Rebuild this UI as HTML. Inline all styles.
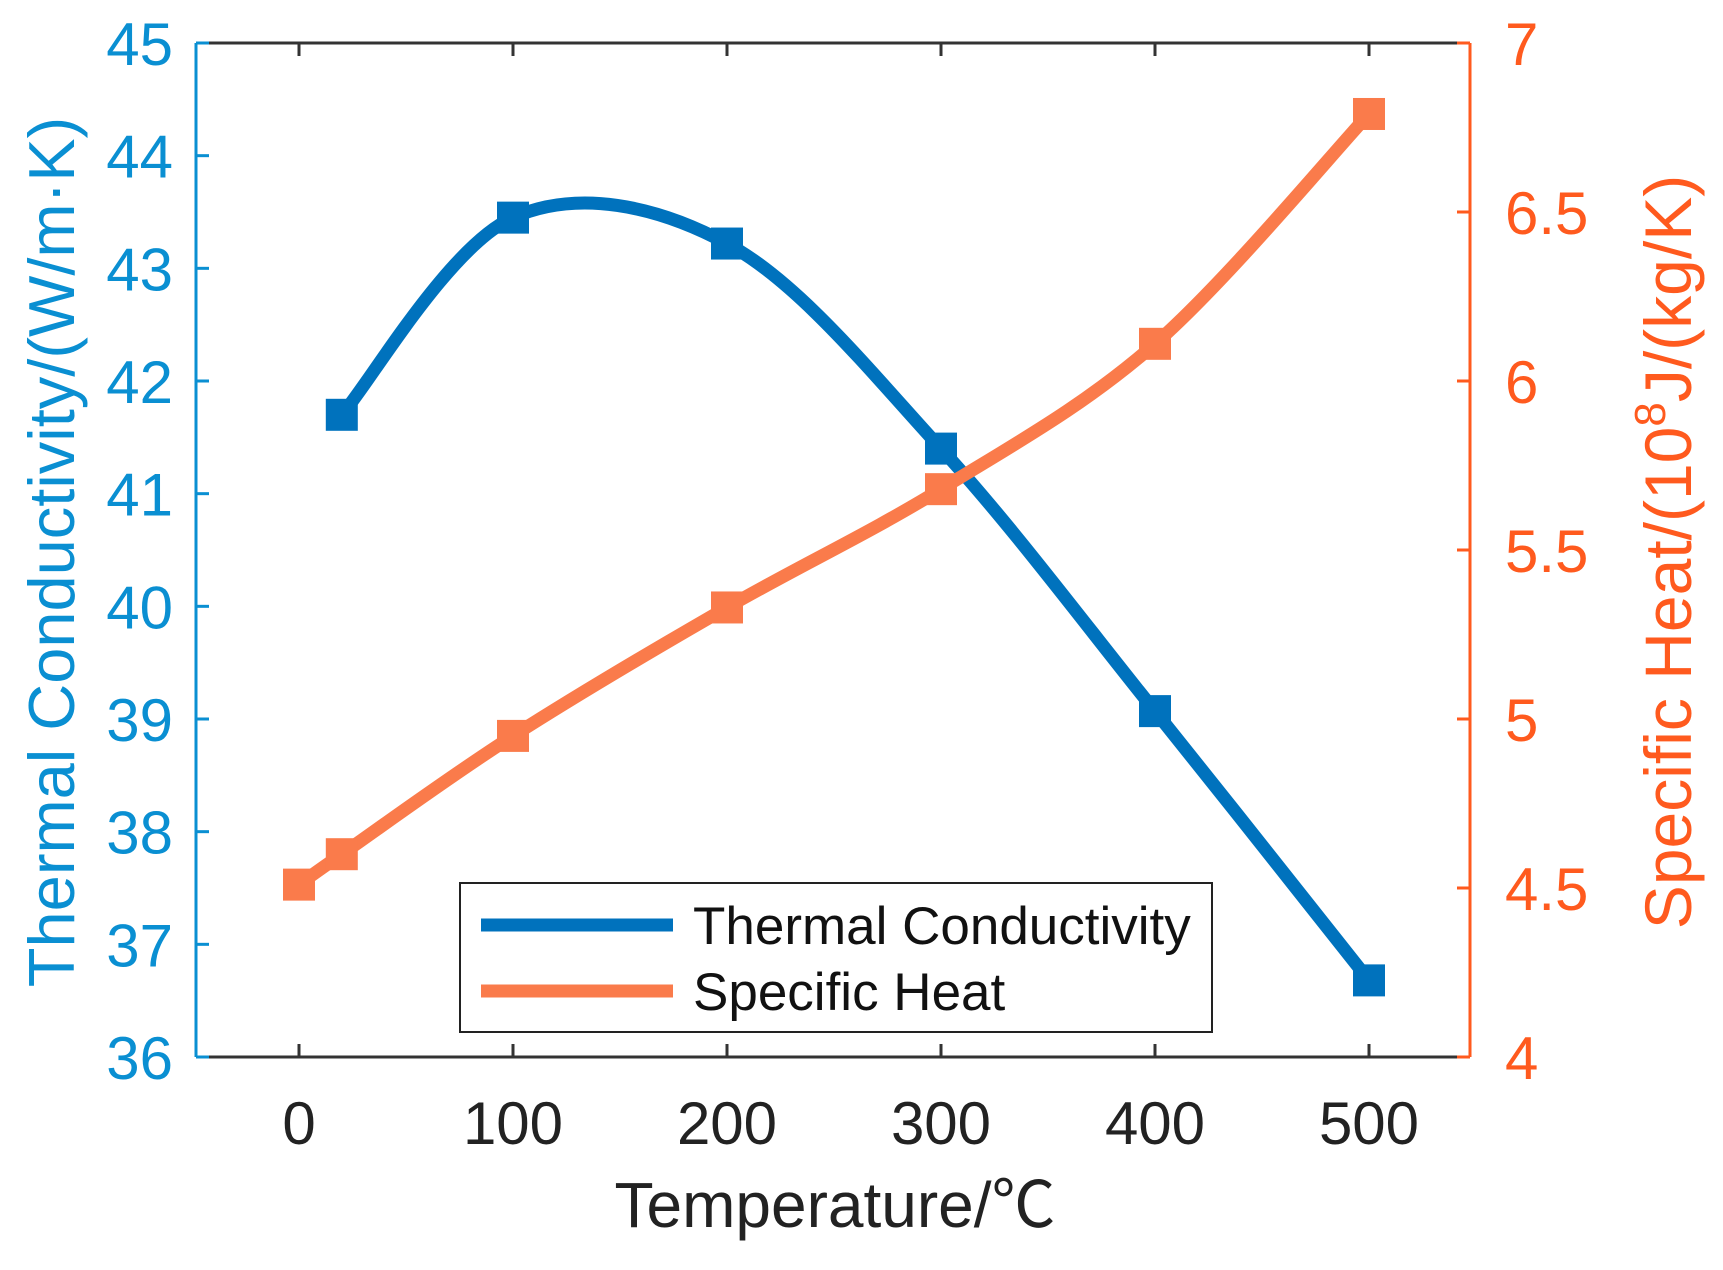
<!DOCTYPE html>
<html><head><meta charset="utf-8"><style>
body{margin:0;background:#fff}
svg text{font-family:"Liberation Sans","Noto Sans CJK SC",sans-serif}
</style></head><body>
<svg id="chart" width="1723" height="1265" xmlns="http://www.w3.org/2000/svg">
<rect width="1723" height="1265" fill="#fff"/>
<g id="marks"></g>
<g id="axes"></g>
</svg>
<script>
const xTicks=[0,100,200,300,400,500];
const leftTicks=[36,37,38,39,40,41,42,43,44,45];
const rightTicks=[4,4.5,5,5.5,6,6.5,7];
const rightTickLabels=["4","4.5","5","5.5","6","6.5","7"];
const tcX=[20,100,200,300,400,500];
const tcY=[41.7,43.45,43.22,41.4,39.07,36.68];
const shX=[0,20,100,200,300,400,500];
const shY=[4.51,4.6,4.95,5.33,5.68,6.11,6.79];

const L=196,R=1470,T=43,B=1057;
const X0=299,X1=1369;
const sx=v=>X0+(v-0)*(X1-X0)/500;
const syL=v=>B-(v-36)*(B-T)/9;
const syR=v=>B-(v-4)*(B-T)/3;
const NS="http://www.w3.org/2000/svg";
const marks=document.getElementById('marks'),axes=document.getElementById('axes');
function mk(tag,attrs,parent){const e=document.createElementNS(NS,tag);for(const k in attrs)e.setAttribute(k,attrs[k]);parent.appendChild(e);return e;}
function spline(pts){let d=`M${pts[0][0]},${pts[0][1]}`;
 for(let i=0;i<pts.length-1;i++){const p0=pts[Math.max(0,i-1)],p1=pts[i],p2=pts[i+1],p3=pts[Math.min(pts.length-1,i+2)];
 const c1=[p1[0]+(p2[0]-p0[0])/6,p1[1]+(p2[1]-p0[1])/6],c2=[p2[0]-(p3[0]-p1[0])/6,p2[1]-(p3[1]-p1[1])/6];
 d+=` C${c1[0]},${c1[1]} ${c2[0]},${c2[1]} ${p2[0]},${p2[1]}`;}return d;}
function series(xs,ys,sy,color,name){
 const pts=xs.map((x,i)=>[sx(x),sy(ys[i])]);
 const p=mk('path',{d:spline(pts),fill:'none',stroke:color,'stroke-width':13,'stroke-linejoin':'round'},marks);
 
 
 pts.forEach((q,i)=>{const r=mk('rect',{x:q[0]-16,y:q[1]-16,width:32,height:32,fill:color},marks);
  
  });
}
series(tcX,tcY,syL,'#0072BD','thermal-conductivity');
series(shX,shY,syR,'#FA7B4B','specific-heat');

const blue='#0A8FD2',orange='#FF5A1E',grey='#333';
let e=mk('line',{x1:L,y1:T,x2:R,y2:T,stroke:grey,'stroke-width':3},axes);
e=mk('line',{x1:L,y1:B,x2:R,y2:B,stroke:grey,'stroke-width':3},axes);
e=mk('line',{x1:L,y1:T,x2:L,y2:B,stroke:blue,'stroke-width':3},axes);
e=mk('line',{x1:R,y1:T,x2:R,y2:B,stroke:orange,'stroke-width':3},axes);
xTicks.forEach(v=>{const x=sx(v);
 mk('line',{x1:x,y1:B,x2:x,y2:B-13,stroke:grey,'stroke-width':3},axes);
 mk('line',{x1:x,y1:T,x2:x,y2:T+13,stroke:grey,'stroke-width':3},axes);
 const t=mk('text',{x:x,y:B+87,'text-anchor':'middle','font-size':60,fill:'#222'},axes);t.textContent=v;
 
 });
leftTicks.forEach(v=>{const y=syL(v);
 mk('line',{x1:L,y1:y,x2:L+13,y2:y,stroke:blue,'stroke-width':3},axes);
 const t=mk('text',{x:173,y:y+22,'text-anchor':'end','font-size':60,fill:blue},axes);t.textContent=v;
 
 });
rightTicks.forEach((v,i)=>{const y=syR(v);
 mk('line',{x1:R,y1:y,x2:R-13,y2:y,stroke:orange,'stroke-width':3},axes);
 const t=mk('text',{x:1505,y:y+22,'text-anchor':'start','font-size':60,fill:orange},axes);t.textContent=rightTickLabels[i];
 
 });
</script>
<svg style="position:absolute;left:0;top:0" width="1723" height="1265" xmlns="http://www.w3.org/2000/svg">
<text x="835" y="1227" text-anchor="middle" font-size="64" fill="#222">Temperature/℃</text>
<text transform="translate(74,552) rotate(-90)" text-anchor="middle" font-size="65" fill="#0A8FD2">Thermal Conductivity/(W/m·K)</text>
<text transform="translate(1691,552) rotate(-90)" text-anchor="middle" font-size="66" fill="#FF5A1E">Specific Heat/(10<tspan font-size="44" dy="-26">8</tspan><tspan dy="26">J/(kg/K)</tspan></text>
<g>
<rect x="460" y="883" width="752" height="149" fill="#fff" stroke="#222" stroke-width="2"/>
<line x1="481" y1="925" x2="673" y2="925" stroke="#0072BD" stroke-width="13"/>
<text x="693" y="944" font-size="53" fill="#111">Thermal Conductivity</text>
<line x1="481" y1="991" x2="673" y2="991" stroke="#FA7B4B" stroke-width="13"/>
<text x="693" y="1010" font-size="53" fill="#111">Specific Heat</text>
</g>
</svg>
</body></html>
